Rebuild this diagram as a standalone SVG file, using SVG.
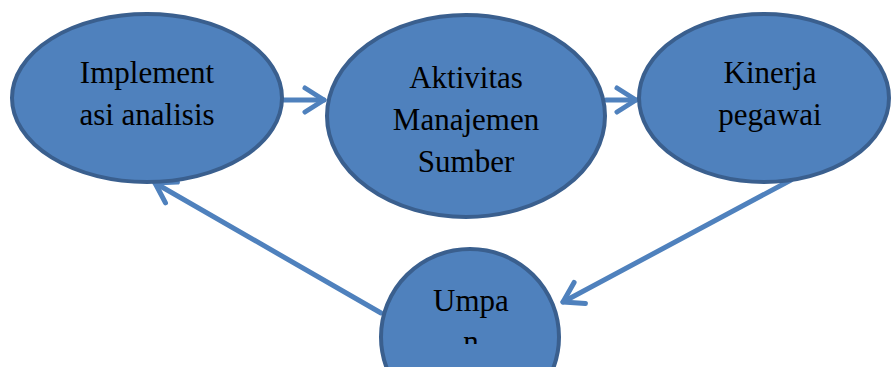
<svg xmlns="http://www.w3.org/2000/svg" width="891" height="367" viewBox="0 0 891 367">
<style>
.node{fill:#4f81bd;stroke:#3a5f8e;stroke-width:4}
.lbl{font-family:"Liberation Serif","Times New Roman",serif;font-size:31px;fill:#000;text-anchor:middle}
.conn{fill:none;stroke:#4f81bd;stroke-width:5;stroke-linecap:round}
</style>
<defs>
<marker id="chev" markerUnits="userSpaceOnUse" markerWidth="40" markerHeight="40" viewBox="-30 -20 40 40" refX="0" refY="0" orient="auto" overflow="visible">
<path d="M-19,-12 L0,0 L-19,12" fill="none" stroke="#4f81bd" stroke-width="5" stroke-linecap="round" stroke-linejoin="round"/>
</marker>
<clipPath id="clipU"><rect x="380" y="240" width="182" height="104"/></clipPath>
</defs>
<g id="connectors">
<path class="conn" d="M283,100 L324,100" marker-end="url(#chev)"/>
<path class="conn" d="M606,100 L636,100" marker-end="url(#chev)"/>
<path class="conn" d="M791,180 L563,302" marker-end="url(#chev)"/>
<path class="conn" d="M381,313 L155,183" marker-end="url(#chev)"/>
</g>
<g id="node-implementasi">
<ellipse class="node" cx="147" cy="98" rx="135" ry="84"/>
<text class="lbl" x="147" y="83">Implement</text>
<text class="lbl" x="147" y="125">asi analisis</text>
</g>
<g id="node-aktivitas">
<ellipse class="node" cx="466" cy="116" rx="139" ry="101"/>
<text class="lbl" x="466" y="88">Aktivitas</text>
<text class="lbl" x="466" y="130">Manajemen</text>
<text class="lbl" x="466" y="172">Sumber</text>
</g>
<g id="node-kinerja">
<ellipse class="node" cx="764" cy="98" rx="125" ry="84"/>
<text class="lbl" x="770" y="83">Kinerja</text>
<text class="lbl" x="770" y="125">pegawai</text>
</g>
<g id="node-umpan">
<ellipse class="node" cx="470" cy="337" rx="89" ry="88"/>
<g clip-path="url(#clipU)">
<text class="lbl" x="471" y="311">Umpa</text>
<text class="lbl" x="471" y="352">n</text>
</g>
</g>
</svg>
